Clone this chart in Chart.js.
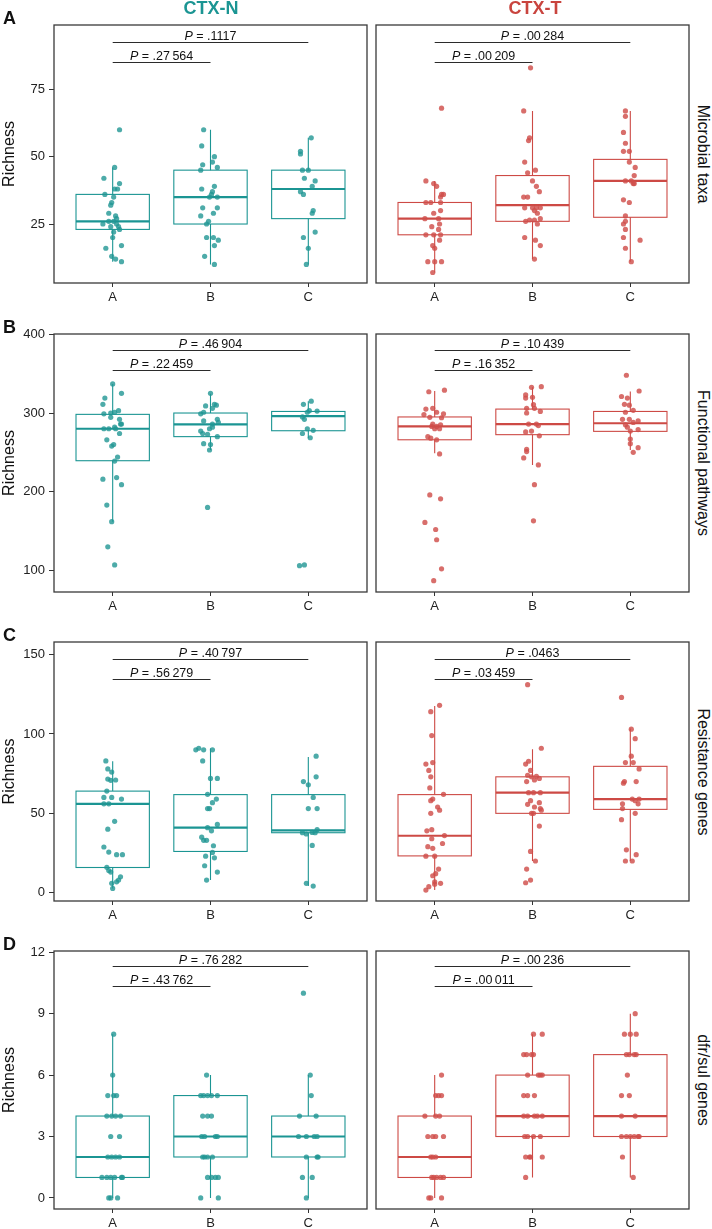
<!DOCTYPE html>
<html>
<head>
<meta charset="utf-8">
<script src="https://cdn.jsdelivr.net/npm/chart.js@4.4.1/dist/chart.umd.min.js"></script>
<style>
  body { margin: 0; background: #fff; width: 712px; height: 1229px; position: relative; overflow: hidden;
         font-family: "Liberation Sans", Arial, sans-serif; }
  canvas { position: absolute; }
  .txt { position: absolute; white-space: nowrap; color: #111; }
  .col { font-weight: bold; font-size: 18px; line-height: 20px; transform: translateX(-50%); }
  .letter { font-weight: bold; font-size: 18px; line-height: 20px; }
  .strip { font-size: 16px; line-height: 18px; transform: translate(-50%, -50%) rotate(90deg); }
</style>
</head>
<body>
<script>
// groups on the x axis
const groups = ['A', 'B', 'C'];

// tick labels per row
const taxaTicks = [25, 50, 75];
const pathTicks = [100, 200, 300, 400];
const resTicks = [0, 50, 100, 150];
const dfrTicks = [0, 3, 6, 9, 12];

// points are [richness, jitter]
// ---- Microbial taxa
const taxaN_A = [[60,.07],[46,.02],[42,-.09],[40,.07],[38,.02],[38,.05],[36,-.08],[35,.01],[33,-.01],[32,-.02],[29,-.04],[28,.03],[27,.04],[25,-.1],[26,-.04],[26,.01],[25,.04],[24,.06],[24,-.02],[23,.07],[22,.01],[20,0],[16,-.07],[17,.09],[13,-.01],[12,.03],[11,.09]];
const taxaN_B = [[60,-.07],[54,-.09],[50,.04],[48,.02],[47,-.08],[46,.07],[45,-.1],[38,-.09],[39,.04],[37,.02],[36,.01],[35,-.01],[35,.07],[31,-.08],[31,.07],[29,.03],[28,-.1],[26,-.02],[25,-.04],[20,-.04],[20,.03],[19,.08],[17,.04],[13,-.06],[10,.04]];
const taxaN_C = [[57,.03],[52,-.08],[51,-.08],[45,-.06],[45,0],[42,-.04],[41,.07],[39,.04],[37,-.08],[36,-.05],[30,.05],[29,.04],[22,.07],[20,-.05],[16,0],[10,-.02]];
const taxaT_A = [[68,.07],[41,-.09],[40,-.01],[39,.02],[36,.07],[36,.09],[35,.06],[33,-.09],[33,-.04],[33,.06],[30,.06],[29,-.01],[27,-.1],[27,.04],[25,.05],[24,-.03],[23,.04],[21,-.09],[21,-.01],[21,.06],[19,.05],[17,-.02],[16,0],[11,-.07],[11,0],[11,.07],[7,-.02]];
const taxaT_B = [[83,-.02],[67,-.09],[57,-.03],[56,-.04],[48,-.08],[45,.03],[44,-.05],[41,0],[39,.04],[37,.07],[35,-.09],[35,-.05],[31,-.08],[31,0],[31,.04],[31,.08],[30,.02],[29,.05],[26.5,-.03],[26.5,.02],[27,.08],[25,.05],[26,-.07],[20,-.08],[19,.03],[17,.08],[12,.02]];
const taxaT_C = [[67,-.05],[65,-.05],[59,-.07],[55,-.05],[52,-.07],[52,-.01],[48,-.01],[46,.05],[43,.04],[41,.01],[40,.03],[40,.04],[41,-.05],[34,-.07],[33,-.01],[28,-.05],[26,-.05],[25,-.07],[23,-.05],[20,-.07],[19,.1],[16,-.05],[11,.01]];
// box stats: [lower whisker, q1, median, q3, upper whisker]
const taxaN_box = [[11,23,26,36,46],[10,25,35,45,60],[10,27,38,45,57]];
const taxaT_box = [[7,21,27,33,41],[12,26,32,43,67],[11,27.5,41,49,67]];
const taxaN_p = ['.1117', '.27\u2009564'];
const taxaT_p = ['.00\u2009284', '.00\u2009209'];
const taxaBrackets = [92.7, 85.3];

// ---- Functional pathways
const pathN_A = [[337,0],[325,.09],[319,-.08],[311,-.1],[299,-.09],[294.5,-.02],[301,.02],[303,.06],[300,-.02],[292,.07],[286,.08],[286,.09],[280,-.09],[280,-.04],[282,.02],[280,.03],[274,.07],[266,-.06],[258,-.01],[260,.01],[244,.05],[239,.02],[216,-.1],[218,.04],[209,.09],[183,-.06],[162,-.01],[130,-.05],[107,.02]];
const pathN_B = [[325,0],[309,-.05],[311,.04],[310,.06],[306,.02],[299,-.1],[301,-.07],[292,.07],[288,.08],[290,-.07],[286,.02],[280,-.01],[282,.02],[277,-.1],[274,-.08],[273,-.03],[270,.07],[261,-.07],[260,0],[253,-.01],[180,-.03]];
const pathN_C = [[315,.03],[311,-.05],[303,.01],[302.5,.09],[301,-.01],[295,-.06],[292,-.04],[280,-.01],[278,.05],[274,-.06],[268.6,.02],[106,-.09],[107,-.04]];
const pathT_A = [[327,-.06],[329,.1],[305,-.09],[306,-.02],[298,-.11],[301,.02],[299,.09],[294.5,-.05],[294,.07],[286,-.02],[283,.02],[285,.06],[283,-.03],[280,0],[280,.05],[270,-.07],[268,-.04],[266,.02],[248,.05],[196,-.05],[191,.06],[161,-.1],[152,.01],[139,.02],[102,.07],[87,-.01]];
const pathT_B = [[332.6,-.01],[333.5,.09],[323,-.07],[319,-.07],[320,0],[310.6,.01],[306,.02],[306,-.06],[302,.08],[300,-.06],[286,-.04],[286,.04],[284,.06],[276,-.07],[277,-.01],[271,.07],[254,-.06],[251,-.06],[243,-.09],[234,.06],[209,.02],[163,.01]];
const pathT_C = [[348,-.04],[328,.09],[321,-.09],[319,-.03],[311,-.06],[310,-.01],[301,-.05],[303.4,.03],[292,-.01],[292,-.08],[290,.08],[288,.03],[285,-.05],[282,-.03],[279,.08],[277,0],[267,0],[261,0],[256,.08],[250,.03]];
const pathN_box = [[162,239.4,280,298.3,337],[253,270,285.6,300,324.6],[268,277.5,296,302,315]];
const pathT_box = [[249,266,283,295,328],[234,272.5,286,305,332.6],[253,276.7,287,302,327.5]];
const pathN_p = ['.46\u2009904', '.22\u2009459'];
const pathT_p = ['.10\u2009439', '.16\u2009352'];
const pathBrackets = [380.5, 354.5];

// ---- Resistance genes
const resN_A = [[83,-.07],[78,-.05],[76,-.01],[71.6,-.05],[71,.03],[70.8,-.02],[64,-.06],[60,-.09],[60,-.01],[59,.09],[56,-.09],[56,-.04],[45,.02],[40,-.05],[28.8,-.09],[25.6,-.04],[24,.04],[24,.1],[16,-.06],[14,-.04],[13,-.02],[10,.08],[8,.06],[6.9,.04],[5.9,-.01],[2.7,0]];
const resN_B = [[90,-.15],[91,-.12],[90,-.07],[90,.02],[83,-.08],[72,0],[72,.07],[62,-.03],[59,.06],[56.7,.02],[53,-.03],[53,-.01],[41,-.03],[43,.07],[39,.01],[35,-.09],[33,-.07],[33,-.04],[29.6,.03],[25.4,.02],[23,-.05],[22,.04],[17,-.06],[13,.07],[8,-.04]];
const resN_C = [[86,.08],[73,.08],[70,-.05],[68,0],[60,.05],[53,0],[53,.09],[37.8,-.06],[37,-.02],[38,.04],[39.7,.09],[37.8,.07],[29.8,.04],[5.9,-.02],[4.2,.05]];
const resT_A = [[118,.05],[114,-.04],[99,-.03],[81,-.09],[82,-.02],[77,-.06],[73,-.04],[66,-.05],[62,.09],[58,-.04],[59,-.02],[54,.03],[52,.05],[50,-.04],[39.7,-.03],[39,-.08],[36,.1],[34,-.03],[29,-.07],[28,-.02],[31,.08],[23,-.09],[23,0],[14.9,.04],[12,.01],[10.7,-.02],[6.9,0],[5.9,.06],[3.8,-.06],[1.7,-.09],[5.4,0]];
const resT_B = [[131,-.05],[91,.09],[81,-.07],[82.8,-.04],[77,-.02],[74,-.05],[73,-.01],[73.3,.04],[72,.07],[70,-.06],[71,.02],[63,-.04],[63,.01],[63,.08],[58,-.02],[56.7,.07],[55.7,-.05],[54,.02],[53,.08],[52,.09],[50,-.01],[50,.01],[42,.07],[26,-.02],[20,.03],[14.9,-.06],[8,-.02],[6.3,-.07]];
const resT_C = [[123,-.09],[103,.01],[97,.05],[86,.01],[82,-.05],[82,.03],[78,.09],[70,-.06],[69,-.07],[70,.06],[59,.02],[59,.09],[58,.05],[56,.08],[56,-.08],[53,-.08],[50,.05],[46,-.09],[27,-.04],[24,.06],[20,-.05],[20,.02]];
const resN_box = [[2.7,15.9,56,64,82.8],[8,26,41,61.8,90.8],[4.2,37.8,39.3,61.8,85.5]];
const resT_box = [[1.7,23.2,35.9,61.8,117.6],[20,50,63,73,90.3],[20,52.5,59,79.6,103.4]];
const resN_p = ['.40\u2009797', '.56\u2009279'];
const resT_p = ['.0463', '.03\u2009459'];
const resBrackets = [147.5, 134.9];

// ---- dfr/sul genes
const dfrN_A = [[8,.01],[6,0],[5,-.05],[5,.01],[5,.04],[4,-.06],[4,-.01],[4,.03],[4,.08],[3,-.02],[3,.07],[2,-.05],[2,-.01],[2,.03],[2,.07],[1,-.11],[1,-.06],[1,-.02],[1,.02],[1,.09],[1,.1],[0,-.04],[0,-.02],[0,.05]];
const dfrN_B = [[6,-.04],[5,-.1],[5,-.07],[5,-.03],[5,.01],[5,.07],[4,-.08],[4,-.03],[4,.01],[3,-.09],[3,-.06],[3,.05],[3,.07],[2,-.08],[2,-.06],[2,-.03],[2,.02],[1,-.03],[1,.01],[1,.05],[1,.08],[0,-.1],[0,.08]];
const dfrN_C = [[10,-.05],[6,.02],[5,.03],[4,-.09],[4,.08],[3,-.1],[3,-.02],[3,.06],[3,.09],[2,-.02],[2,.09],[2,.1],[1,-.06],[1,.04],[0,-.02]];
const dfrT_A = [[6,.07],[5,.01],[5,.04],[5,.07],[4,-.1],[4,.01],[4,.05],[3,-.07],[3,-.02],[3,.01],[3,.09],[2,-.04],[2,-.02],[2,.01],[1,-.03],[1,-.01],[1,.02],[1,.06],[1,.09],[0,-.06],[0,-.04],[0,.07]];
const dfrT_B = [[8,.01],[8,.1],[7,-.09],[7,-.06],[7,-.01],[7,.01],[6,-.05],[6,.06],[6,.08],[6,.1],[5,-.09],[5,-.05],[5,.02],[4,-.09],[4,-.05],[4,.02],[4,.05],[4,.1],[3,-.08],[3,-.05],[3,.01],[3,.08],[2,-.07],[2,-.03],[2,-.02],[2,.1],[1,-.07]];
const dfrT_C = [[9,.05],[8,-.06],[8,0],[8,.06],[7,-.04],[7,-.01],[7,.04],[7,.06],[6,-.03],[5,-.09],[5,-.01],[4,-.09],[4,.05],[3,-.09],[3,-.04],[3,0],[3,.04],[3,.08],[3,.09],[2,-.08],[1,.03]];
const dfrN_box = [[0,1,2,4,8],[0,2,3,5,6],[0,2,3,4,6]];
const dfrT_box = [[0,1,2,4,6],[1,3,4,6,8],[1,3,4,7,9]];
const dfrN_p = ['.76\u2009282', '.43\u2009762'];
const dfrT_p = ['.00\u2009236', '.00\u2009011'];
const dfrBrackets = [11.32, 10.33];

// ---------- layout ----------
const TEAL = '#1b9593', TEAL_PT = 'rgba(32,150,147,0.8)';
const RED = '#cd4a45', RED_PT = 'rgba(207,78,74,0.82)';
const FONT = '"Liberation Sans", Arial, sans-serif';
const PAD_TOP = 10;

const rows = [
  { letter: 'A', strip: 'Microbial taxa', top: 25, h: 258, min: 3.1, max: 98.9, ticks: taxaTicks, br: taxaBrackets,
    n: [[taxaN_A, taxaN_B, taxaN_C], taxaN_box, taxaN_p], t: [[taxaT_A, taxaT_B, taxaT_C], taxaT_box, taxaT_p] },
  { letter: 'B', strip: 'Functional pathways', top: 334, h: 258, min: 72.6, max: 400.4, ticks: pathTicks, br: pathBrackets,
    n: [[pathN_A, pathN_B, pathN_C], pathN_box, pathN_p], t: [[pathT_A, pathT_B, pathT_C], pathT_box, pathT_p] },
  { letter: 'C', strip: 'Resistance genes', top: 642, h: 259, min: -5.2, max: 157.9, ticks: resTicks, br: resBrackets,
    n: [[resN_A, resN_B, resN_C], resN_box, resN_p], t: [[resT_A, resT_B, resT_C], resT_box, resT_p] },
  { letter: 'D', strip: 'dfr/sul genes', top: 951, h: 258, min: -0.54, max: 12.06, ticks: dfrTicks, br: dfrBrackets,
    n: [[dfrN_A, dfrN_B, dfrN_C], dfrN_box, dfrN_p], t: [[dfrT_A, dfrT_B, dfrT_C], dfrT_box, dfrT_p] }
];

function addText(cls, text, css) {
  const d = document.createElement('div');
  d.className = 'txt ' + cls;
  d.textContent = text;
  Object.assign(d.style, css);
  document.body.appendChild(d);
}

function boxPlugin(stats, pvals, brackets, color) {
  return {
    id: 'boxes',
    beforeDatasetsDraw(chart) {
      const { ctx, scales: { x, y } } = chart;
      ctx.save();
      ctx.strokeStyle = color;
      stats.forEach((s, i) => {
        const cx = x.getPixelForValue(i + 1);
        const half = x.getPixelForValue(i + 1.375) - cx;
        const [lo, q1, med, q3, hi] = s.map(v => y.getPixelForValue(v));
        ctx.lineWidth = 1.1;
        ctx.beginPath();
        ctx.moveTo(cx, hi); ctx.lineTo(cx, q3);
        ctx.moveTo(cx, q1); ctx.lineTo(cx, lo);
        ctx.stroke();
        ctx.strokeRect(cx - half, q3, 2 * half, q1 - q3);
        ctx.lineWidth = 2.2;
        ctx.beginPath();
        ctx.moveTo(cx - half, med); ctx.lineTo(cx + half, med);
        ctx.stroke();
      });
      ctx.restore();
    },
    afterDatasetsDraw(chart) {
      const { ctx, chartArea: a, scales: { x, y } } = chart;
      ctx.save();
      ctx.strokeStyle = '#3a3a3a';
      ctx.lineWidth = 1.3;
      ctx.strokeRect(a.left, a.top, a.right - a.left, a.bottom - a.top);
      // comparison brackets: A-C on top, A-B below
      const ends = [3, 2];
      ctx.strokeStyle = '#2b2b2b';
      ctx.lineWidth = 1;
      ctx.fillStyle = '#111';
      ctx.textBaseline = 'alphabetic';
      brackets.forEach((b, k) => {
        const x0 = x.getPixelForValue(1), x1 = x.getPixelForValue(ends[k]);
        const yy = Math.round(y.getPixelForValue(b)) + 0.5;
        ctx.beginPath(); ctx.moveTo(x0, yy); ctx.lineTo(x1, yy); ctx.stroke();
        const rest = ' = ' + pvals[k];
        ctx.font = 'italic 12.5px ' + FONT;
        const wp = ctx.measureText('P').width;
        ctx.font = '12.5px ' + FONT;
        const wr = ctx.measureText(rest).width;
        const sx = (x0 + x1) / 2 - (wp + wr) / 2;
        ctx.font = 'italic 12.5px ' + FONT;
        ctx.fillText('P', sx, yy - 3);
        ctx.font = '12.5px ' + FONT;
        ctx.fillText(rest, sx + wp, yy - 3);
      });
      ctx.restore();
    }
  };
}

function makePanel(row, side) {
  const left = side === 'n';
  const [pts, stats, pvals] = row[side];
  const canvas = document.createElement('canvas');
  const cl = left ? 0 : 372, cw = left ? 371 : 321;
  const ch = PAD_TOP + row.h + 26;
  canvas.width = cw; canvas.height = ch;
  canvas.style.left = cl + 'px';
  canvas.style.top = (row.top - PAD_TOP) + 'px';
  canvas.style.width = cw + 'px';
  canvas.style.height = ch + 'px';
  document.body.appendChild(canvas);

  const datasets = pts.map((g, i) => ({
    type: 'scatter',
    data: g.map(([v, dx]) => ({ x: i + 1 + dx, y: v })),
    pointRadius: 2.6,
    pointBorderWidth: 0,
    pointBackgroundColor: left ? TEAL_PT : RED_PT,
    pointBorderColor: 'transparent'
  }));

  new Chart(canvas, {
    type: 'scatter',
    data: { datasets },
    options: {
      responsive: false,
      animation: false,
      events: [],
      devicePixelRatio: 1,
      layout: { padding: { top: PAD_TOP, right: 3, left: left ? 0 : 2, bottom: 0 } },
      plugins: { legend: { display: false }, tooltip: { enabled: false } },
      scales: {
        x: {
          type: 'linear', min: 0.4, max: 3.6,
          afterBuildTicks: s => { s.ticks = groups.map((g, i) => ({ value: i + 1 })); },
          afterFit: s => { s.height = 26; s.paddingLeft = 0; s.paddingRight = 0; },
          ticks: { autoSkip: false, maxRotation: 0, padding: 3, color: '#222',
                   font: { family: FONT, size: 13 }, callback: v => groups[v - 1] },
          grid: { drawOnChartArea: false, drawTicks: true, tickLength: 4, color: '#333', lineWidth: 1 },
          border: { display: false }
        },
        y: {
          type: 'linear', display: left, min: row.min, max: row.max,
          afterBuildTicks: s => { s.ticks = row.ticks.map(v => ({ value: v })); },
          afterFit: s => { s.width = left ? 54 : 0; s.paddingTop = 0; s.paddingBottom = 0; },
          ticks: { padding: 4, color: '#222', font: { family: FONT, size: 13 } },
          grid: { drawOnChartArea: false, drawTicks: true, tickLength: 5, color: '#333', lineWidth: 1 },
          border: { display: false },
          title: { display: true, text: 'Richness', color: '#111', padding: { top: 0, bottom: 0 },
                   font: { family: FONT, size: 16 } }
        }
      }
    },
    plugins: [boxPlugin(stats, pvals, row.br, left ? TEAL : RED)]
  });
}

rows.forEach(row => {
  makePanel(row, 'n');
  makePanel(row, 't');
  addText('letter', row.letter, { left: '3px', top: (row.top - 17) + 'px' });
  addText('strip', row.strip, { left: '703px', top: (row.top + row.h / 2) + 'px' });
});
addText('col', 'CTX-N', { left: '211px', top: '-2px', color: TEAL });
addText('col', 'CTX-T', { left: '535px', top: '-2px', color: '#c9443e' });
</script>
</body>
</html>
